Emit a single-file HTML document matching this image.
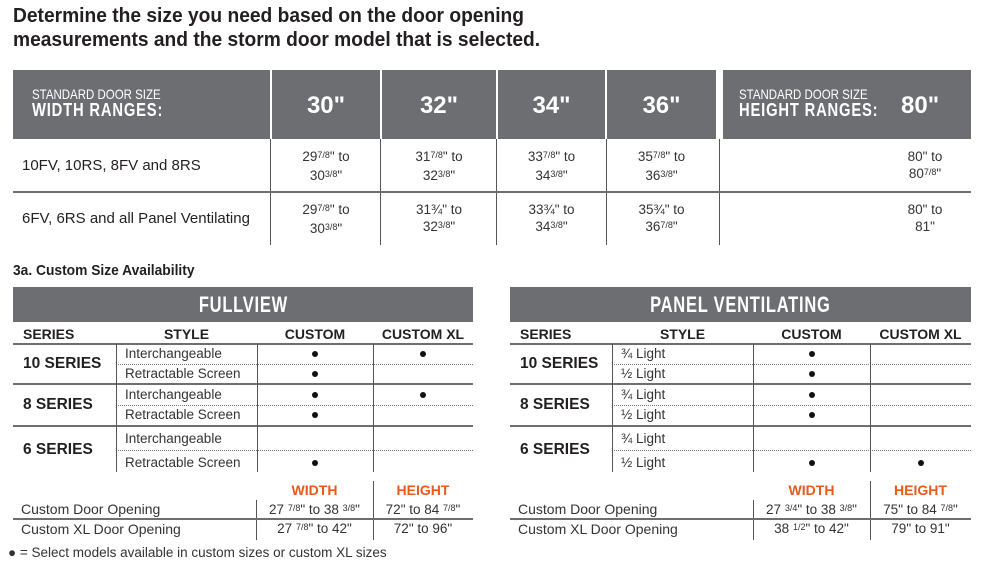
<!DOCTYPE html>
<html><head><meta charset="utf-8"><style>
body{margin:0;width:1000px;height:573px;background:#fff;position:relative;overflow:hidden;font-family:"Liberation Sans",sans-serif;color:#231f20}
.a{position:absolute;white-space:nowrap}
.g{position:absolute;background:#6d6e71}
.c{text-align:center}
.hl{position:absolute;height:2px;background:#6d6e71}
.vl{position:absolute;width:1px;background:#555}
.dl{position:absolute;height:0;border-top:1px dotted #777}
.f{font-size:9px;position:relative;top:-3px}
.w{color:#fff;font-weight:bold}
.cond{display:inline-block;transform:scaleX(.82);transform-origin:left center}
.condc{display:inline-block;transform:scaleX(.82);transform-origin:center center}
.t1{font-size:13.5px;line-height:17px;color:#333}
.dot{position:absolute;width:6px;height:6px;border-radius:50%;background:#111}
.or{color:#e8591a;font-weight:bold;font-size:14px}
</style></head><body>
<div class="a" style="left:13px;top:4px;font-size:20px;font-weight:bold;line-height:24px;transform:scaleX(.96);transform-origin:left">Determine the size you need based on the door opening<br>measurements and the storm door model that is selected.</div>

<div class="g" style="left:13px;top:70px;width:257px;height:69px"></div>
<div class="g" style="left:272px;top:70px;width:108px;height:69px"></div>
<div class="g" style="left:382px;top:70px;width:114px;height:69px"></div>
<div class="g" style="left:498px;top:70px;width:107px;height:69px"></div>
<div class="g" style="left:607px;top:70px;width:109px;height:69px"></div>
<div class="g" style="left:723px;top:70px;width:248px;height:69px"></div>
<div class="a w" style="left:32px;top:86px;font-size:14px;font-weight:normal;line-height:16px"><span class="cond">STANDARD DOOR SIZE<br><b style="font-size:18px;letter-spacing:1px">WIDTH RANGES:</b></span></div>
<div class="a w" style="left:739px;top:86px;font-size:14px;font-weight:normal;line-height:16px"><span class="cond">STANDARD DOOR SIZE<br><b style="font-size:18px;letter-spacing:1px">HEIGHT RANGES:</b></span></div>
<div class="a w c" style="left:272px;top:92px;width:108px;font-size:24px">30"</div>
<div class="a w c" style="left:382px;top:92px;width:114px;font-size:24px">32"</div>
<div class="a w c" style="left:498px;top:92px;width:107px;font-size:24px">34"</div>
<div class="a w c" style="left:607px;top:92px;width:109px;font-size:24px">36"</div>
<div class="a w" style="left:901px;top:92px;font-size:24px">80"</div>
<div class="vl" style="left:270px;top:139px;height:106px"></div>
<div class="vl" style="left:380px;top:139px;height:106px"></div>
<div class="vl" style="left:496px;top:139px;height:106px"></div>
<div class="vl" style="left:606px;top:139px;height:106px"></div>
<div class="vl" style="left:719px;top:139px;height:106px"></div>
<div class="hl" style="left:13px;top:191px;width:958px"></div>
<div class="a" style="left:22px;top:157px;font-size:15px">10FV, 10RS, 8FV and 8RS</div>
<div class="a" style="left:22px;top:210px;font-size:15px">6FV, 6RS and all Panel Ventilating</div>
<div class="a c t1" style="left:272px;top:148px;width:108px">29<span class="f">7/8</span>" to<br>30<span class="f">3/8</span>"</div>
<div class="a c t1" style="left:382px;top:148px;width:114px">31<span class="f">7/8</span>" to<br>32<span class="f">3/8</span>"</div>
<div class="a c t1" style="left:498px;top:148px;width:107px">33<span class="f">7/8</span>" to<br>34<span class="f">3/8</span>"</div>
<div class="a c t1" style="left:607px;top:148px;width:109px">35<span class="f">7/8</span>" to<br>36<span class="f">3/8</span>"</div>
<div class="a c t1" style="left:900px;top:148px;width:50px">80" to<br>80<span class="f">7/8</span>"</div>
<div class="a c t1" style="left:272px;top:201px;width:108px">29<span class="f">7/8</span>" to<br>30<span class="f">3/8</span>"</div>
<div class="a c t1" style="left:382px;top:201px;width:114px">31¾" to<br>32<span class="f">3/8</span>"</div>
<div class="a c t1" style="left:498px;top:201px;width:107px">33¾" to<br>34<span class="f">3/8</span>"</div>
<div class="a c t1" style="left:607px;top:201px;width:109px">35¾" to<br>36<span class="f">7/8</span>"</div>
<div class="a c t1" style="left:900px;top:201px;width:50px">80" to<br>81"</div>

<div class="a" style="left:13px;top:262px;font-size:15px;font-weight:bold"><span class="cond" style="transform:scaleX(.92)">3a. Custom Size Availability</span></div>

<div class="g" style="left:13px;top:287px;width:460px;height:35px"></div>
<div class="a w c" style="left:13px;top:292px;width:460px;font-size:22px"><span class="condc" style="transform:scaleX(.75);letter-spacing:1px">FULLVIEW</span></div>
<div class="g" style="left:510px;top:287px;width:461px;height:35px"></div>
<div class="a w c" style="left:510px;top:292px;width:461px;font-size:22px"><span class="condc" style="transform:scaleX(.75);letter-spacing:1px">PANEL VENTILATING</span></div>

<div id="L"></div>
<script>
function tbl(x0,xs,styles,c1,c2){
 let h='';
 const W=xs[3]-x0;
 h+=`<div class="a" style="left:${x0+10}px;top:326px;font-size:14px;font-weight:bold">SERIES</div>`;
 h+=`<div class="a c" style="left:${xs[0]}px;top:326px;width:${xs[1]-xs[0]}px;font-size:14px;font-weight:bold">STYLE</div>`;
 h+=`<div class="a c" style="left:${xs[1]}px;top:326px;width:${xs[2]-xs[1]}px;font-size:14px;font-weight:bold">CUSTOM</div>`;
 h+=`<div class="a c" style="left:${xs[2]}px;top:326px;width:${xs[3]-xs[2]}px;font-size:14px;font-weight:bold">CUSTOM XL</div>`;
 [343,383,425].forEach(y=>h+=`<div class="hl" style="left:${x0}px;top:${y}px;width:${W}px"></div>`);
 [364,405,450].forEach(y=>h+=`<div class="dl" style="left:${xs[0]}px;top:${y}px;width:${xs[3]-xs[0]}px"></div>`);
 [0,1,2].forEach(i=>h+=`<div class="vl" style="left:${xs[i]}px;top:344px;height:128px"></div>`);
 const sr=[['10 SERIES',355],['8 SERIES',396],['6 SERIES',441]];
 sr.forEach(s=>h+=`<div class="a" style="left:${x0+10}px;top:${s[1]}px;font-size:15.5px;font-weight:bold">${s[0]}</div>`);
 const ry=[354,374,395,415,439,463];
 ry.forEach((y,i)=>{h+=`<div class="a" style="left:${xs[0]+9}px;top:${y-8}px;font-size:13.5px;color:#333">${styles[i]}</div>`;
  if(c1[i])h+=`<div class="dot" style="left:${(xs[1]+xs[2])/2-3}px;top:${y-3}px"></div>`;
  if(c2[i])h+=`<div class="dot" style="left:${(xs[2]+xs[3])/2-3}px;top:${y-3}px"></div>`;});
 return h;
}
function bot(x0,xs,r){
 let h='';
 h+=`<div class="a c or" style="left:${xs[1]}px;top:482px;width:${xs[2]-xs[1]}px">WIDTH</div>`;
 h+=`<div class="a c or" style="left:${xs[2]}px;top:482px;width:${xs[3]-xs[2]}px">HEIGHT</div>`;
 h+=`<div class="vl" style="left:${xs[1]}px;top:500px;height:40px"></div>`;
 h+=`<div class="vl" style="left:${xs[2]}px;top:481px;height:59px"></div>`;
 h+=`<div class="hl" style="left:${x0}px;top:518px;width:${xs[3]-x0}px"></div>`;
 h+=`<div class="a" style="left:${x0+8}px;top:501px;font-size:14px;color:#333">Custom Door Opening</div>`;
 h+=`<div class="a" style="left:${x0+8}px;top:521px;font-size:14px;color:#333">Custom XL Door Opening</div>`;
 [[r[0],r[1],502],[r[2],r[3],521]].forEach(a=>{
  h+=`<div class="a c" style="left:${xs[1]}px;top:${a[2]}px;width:${xs[2]-xs[1]}px;font-size:13.5px;color:#333">${a[0]}</div>`;
  h+=`<div class="a c" style="left:${xs[2]}px;top:${a[2]}px;width:${xs[3]-xs[2]}px;font-size:13.5px;color:#333">${a[1]}</div>`;});
 return h;
}
const F=s=>`<span class="f">${s}</span>`;
let h=tbl(13,[116,257,373,473],['Interchangeable','Retractable Screen','Interchangeable','Retractable Screen','Interchangeable','Retractable Screen'],[1,1,1,1,0,1],[1,0,1,0,0,0]);
h+=tbl(510,[612,753,870,971],['¾ Light','½ Light','¾ Light','½ Light','¾ Light','½ Light'],[1,1,1,1,0,1],[0,0,0,0,0,1]);
h+=bot(13,[116,256,373,473],[`27 ${F('7/8')}" to 38 ${F('3/8')}"`,`72" to 84 ${F('7/8')}"`,`27 ${F('7/8')}" to 42"`,`72" to 96"`]);
h+=bot(510,[612,753,870,971],[`27 ${F('3/4')}" to 38 ${F('3/8')}"`,`75" to 84 ${F('7/8')}"`,`38 ${F('1/2')}" to 42"`,`79" to 91"`]);
document.getElementById('L').innerHTML=h;
</script>
<div class="a" style="left:8px;top:545px;font-size:13.5px;color:#333">● = Select models available in custom sizes or custom XL sizes</div>
</body></html>
